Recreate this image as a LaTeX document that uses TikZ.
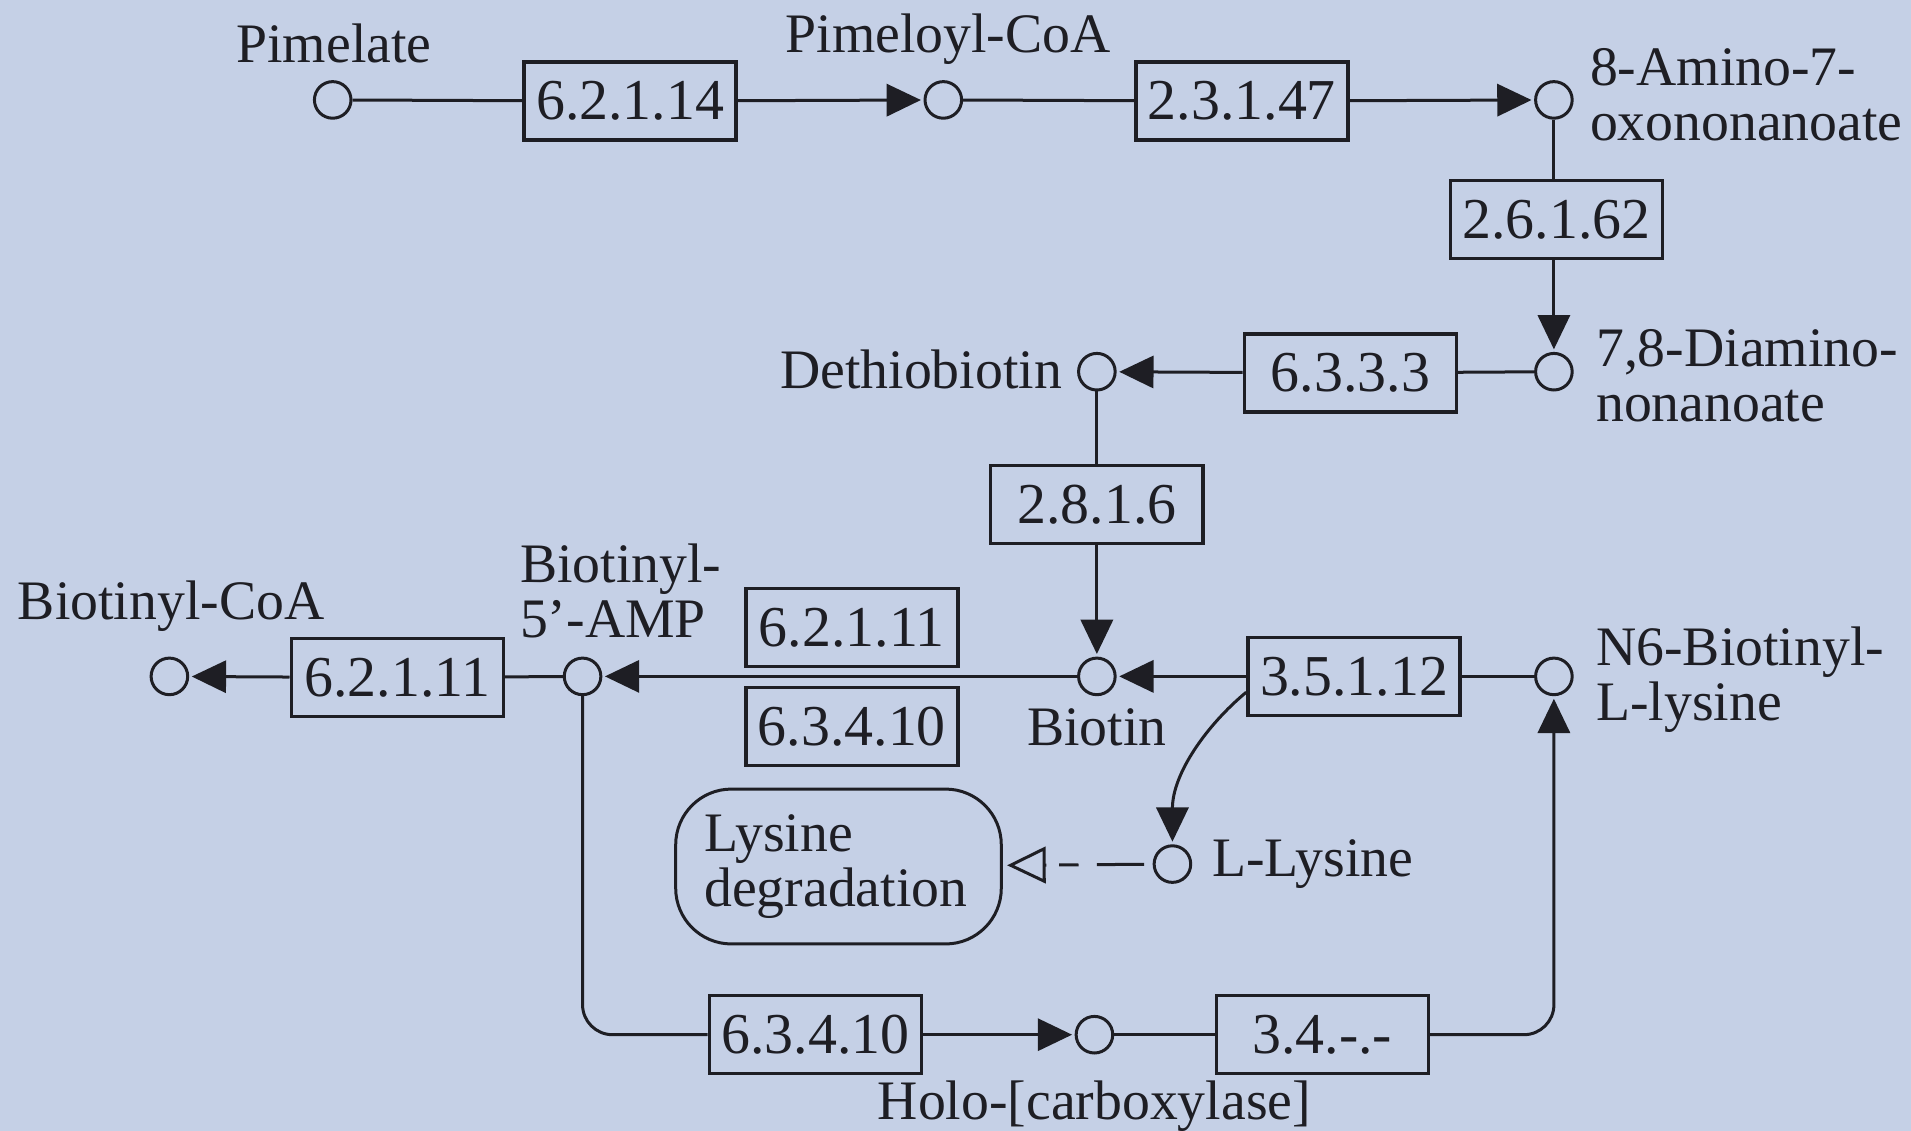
\documentclass[tikz,border=0pt]{standalone}
\usepackage{fontspec}
\setmainfont{Liberation Serif}
\usetikzlibrary{arrows.meta,calc}
\definecolor{bg}{RGB}{197,208,230}
\definecolor{ink}{RGB}{30,30,36}
\tikzset{
  met/.style={circle,draw=ink,line width=0.7pt,minimum size=0.3cm,inner sep=0pt},
  ec/.style={draw=ink,line width=0.8pt,minimum width=1.74cm,minimum height=0.64cm,inner sep=0pt,
    font=\fontsize{13.5pt}{14pt}\selectfont,text=ink},
  lbl/.style={inner sep=0pt,font=\fontsize{13pt}{12.8pt}\selectfont,text=ink,align=left},
  ln/.style={draw=ink,line width=0.7pt},
  rx/.style={ln,-{Triangle[length=8pt,width=7.5pt]},shorten >=0.6pt},
}
\begin{document}
\begin{tikzpicture}[x=0.01cm,y=-0.01cm]
\fill[bg] (0,0) rectangle (1568,928);
\useasboundingbox (0,0) rectangle (1568,928);
% metabolites
\node[met] (pim)  at (273,82)  {};
\node[met] (pcoa) at (774,82)  {};
\node[met] (aon)  at (1275,82) {};
\node[met] (dan)  at (1275,305) {};
\node[met] (dth)  at (900,305) {};
\node[met] (bio)  at (900,555) {};
\node[met] (bamp) at (478,555) {};
\node[met] (bcoa) at (139,555) {};
\node[met] (n6)   at (1275,555) {};
\node[met] (llys) at (962,709) {};
\node[met] (holo) at (898,849) {};
% labels
\node[lbl] (pimL)  at (274,36) {Pimelate};
\node[lbl] (pcoaL) at (778,32) {Pimeloyl-CoA};
\node[lbl,anchor=west] (aonL) at (1304,78) {8-Amino-7-\\oxononanoate};
\node[lbl,anchor=west] (danL) at (1309,308) {7,8-Diamino-\\nonanoate};
\node[lbl,anchor=east] (dthL) at (872,303) {Dethiobiotin};
\node[lbl] (bioL) at (900,597) {Biotin};
\node[lbl,anchor=west] (bampL) at (426,485) {Biotinyl-\\5'-AMP};
\node[lbl,anchor=west] (bcoaL) at (14,497) {Biotinyl-CoA};
\node[lbl,anchor=west] (n6L) at (1309,558) {N6-Biotinyl-\\L-lysine};
\node[lbl,anchor=west] (llysL) at (994,709) {L-Lysine};
\node[lbl] (holoL) at (898,908) {Holo-[carboxylase]};
% enzymes
\node[ec] (e62114) at (517,83) {6.2.1.14};
\node[ec] (e23147) at (1019,83) {2.3.1.47};
\node[ec] (e26162) at (1277,180) {2.6.1.62};
\node[ec] (e6333) at (1108,306) {6.3.3.3};
\node[ec] (e2816) at (900,414) {2.8.1.6};
\node[ec] (e62111a) at (699,515) {6.2.1.11};
\node[ec] (e63410a) at (699,596) {6.3.4.10};
\node[ec] (e62111b) at (326,556) {6.2.1.11};
\node[ec] (e35112) at (1111,555) {3.5.1.12};
\node[ec] (e63410b) at (669,849) {6.3.4.10};
\node[ec] (e34) at (1085,849) {3.4.-.-};
% pathway map
\node[draw=ink,line width=0.7pt,rounded corners=13pt,minimum width=2.67cm,minimum height=1.27cm,
  text width=2.2cm,align=left,inner sep=0pt,font=\fontsize{13pt}{12.8pt}\selectfont,text=ink]
  (lysdeg) at (688,711) {\raisebox{-2pt}{Lysine}\\degradation};
% connectors
\draw[ln] (pim) -- (e62114);
\draw[rx] (e62114) -- (pcoa);
\draw[ln] (pcoa) -- (e23147);
\draw[rx] (e23147) -- (aon);
\draw[ln] (aon) -- (aon |- e26162.north);
\draw[rx] (aon |- e26162.south) -- (dan);
\draw[ln] (dan) -- (e6333);
\draw[rx] (e6333) -- (dth);
\draw[ln] (dth) -- (e2816);
\draw[rx] (e2816) -- (bio);
\draw[rx] (bio) -- (bamp);
\draw[ln] (bamp) -- (e62111b);
\draw[rx] (e62111b) -- (bcoa);
\draw[ln] (n6) -- (e35112);
\draw[rx] (e35112) -- (bio);
\draw[rx] ($(e35112.west)+(0,13)$) .. controls (990,595) and (962,635) .. (llys);
\draw[ln,-{Triangle[open,length=9pt,width=8.5pt]},dash pattern=on 11pt off 4.3pt on 4.5pt off 3pt,shorten <=2pt,shorten >=1pt]
  (llys) -- (lysdeg);
\draw[ln,rounded corners=7pt] (bamp) |- (e63410b);
\draw[rx] (e63410b) -- (holo);
\draw[ln] (holo) -- (e34);
\draw[rx,rounded corners=7pt] (e34) -| (n6);
\end{tikzpicture}
\end{document}
